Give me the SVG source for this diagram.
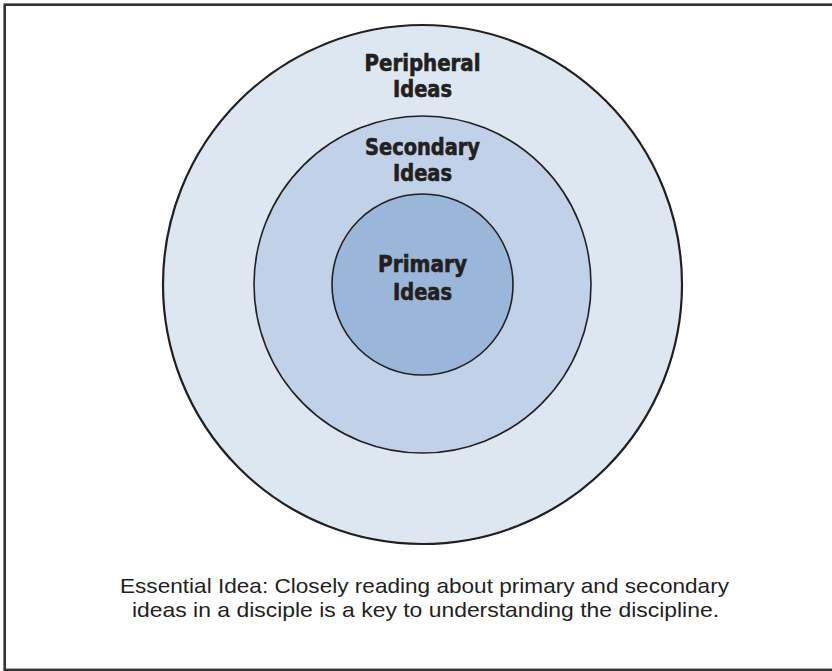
<svg xmlns="http://www.w3.org/2000/svg" width="832" height="671" viewBox="0 0 832 671">
<style>
.ring{stroke:#231f20;stroke-width:1.6}
.outer{fill:#dde7f1;stroke-width:2.2}
.secondary{fill:#c1d2e8}
.primary{fill:#9ab6d9}
.lbl{font-family:"Liberation Sans Narrow","DejaVu Sans Condensed","Liberation Sans",sans-serif;font-stretch:condensed;font-weight:bold;font-size:23px;fill:#231f20;text-anchor:middle;stroke:#231f20;stroke-width:0.6}
.cap{font-family:"Liberation Sans","DejaVu Sans",sans-serif;font-size:21px;fill:#231f20;text-anchor:middle}
</style>
<rect x="0" y="0" width="832" height="671" fill="#ffffff"/>
<rect id="frame" x="4.7" y="4.7" width="832" height="665.2" fill="none" stroke="#333333" stroke-width="2.6"/>
<g id="peripheral">
<circle class="ring outer" cx="422.5" cy="284.5" r="259.5"/>
<text class="lbl"><tspan x="422.5" y="71" textLength="116" lengthAdjust="spacingAndGlyphs">Peripheral</tspan><tspan x="422.5" y="97" textLength="59" lengthAdjust="spacingAndGlyphs">Ideas</tspan></text>
</g>
<g id="secondary">
<circle class="ring secondary" cx="422.5" cy="284.5" r="168.5"/>
<text class="lbl"><tspan x="422.5" y="155" textLength="115" lengthAdjust="spacingAndGlyphs">Secondary</tspan><tspan x="422.5" y="181" textLength="59" lengthAdjust="spacingAndGlyphs">Ideas</tspan></text>
</g>
<g id="primary">
<circle class="ring primary" cx="422.5" cy="284.5" r="90.5"/>
<text class="lbl"><tspan x="422.5" y="272" textLength="89" lengthAdjust="spacingAndGlyphs">Primary</tspan><tspan x="422.5" y="299.5" textLength="59" lengthAdjust="spacingAndGlyphs">Ideas</tspan></text>
</g>
<g id="connectors"></g>
<g id="caption">
<text class="cap"><tspan x="424.5" y="593" textLength="609" lengthAdjust="spacingAndGlyphs">Essential Idea: Closely reading about primary and secondary</tspan><tspan x="425.5" y="617" textLength="587" lengthAdjust="spacingAndGlyphs">ideas in a disciple is a key to understanding the discipline.</tspan></text>
</g>
</svg>
